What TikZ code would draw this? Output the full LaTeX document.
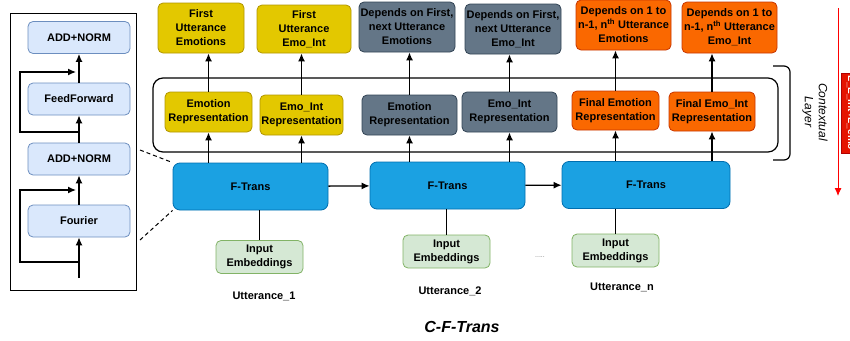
\documentclass[tikz,border=0pt]{standalone}
\usepackage{fontspec}
\setmainfont{Liberation Sans}
\usepackage{xcolor}
\usetikzlibrary{arrows.meta, positioning}

\definecolor{subfill}{HTML}{DAE8FC}
\definecolor{subline}{HTML}{6C8EBF}
\definecolor{yelfill}{HTML}{E3C800}
\definecolor{yelline}{HTML}{B09500}
\definecolor{grayfill}{HTML}{647687}
\definecolor{grayline}{HTML}{314354}
\definecolor{orgfill}{HTML}{FA6800}
\definecolor{orgline}{HTML}{C73500}
\definecolor{ftfill}{HTML}{1BA1E2}
\definecolor{ftline}{HTML}{006EAF}
\definecolor{embfill}{HTML}{D5E8D4}
\definecolor{embline}{HTML}{82B366}
\definecolor{lossfill}{HTML}{E51400}
\definecolor{lossline}{HTML}{B20000}

\begin{document}
\begin{tikzpicture}[x=1pt, y=-1pt,
  font=\fontsize{11}{14}\selectfont\bfseries,
  blk/.style={rounded corners=5pt, align=center, inner sep=0pt, line width=0.8pt},
  sub/.style={blk, fill=subfill, draw=subline, minimum width=102pt, minimum height=32pt},
  yel/.style={blk, fill=yelfill, draw=yelline},
  gry/.style={blk, fill=grayfill, draw=grayline},
  org/.style={blk, fill=orgfill, draw=orgline},
  ftrans/.style={blk, rounded corners=7pt, fill=ftfill, draw=ftline, minimum height=47pt},
  emb/.style={blk, fill=embfill, draw=embline, minimum width=87pt, minimum height=33pt},
  arr/.style={-{Latex[length=8pt,width=7pt]}, line width=1.3pt},
  plain/.style={line width=1.3pt},
]
\useasboundingbox (0,0) rectangle (850,340);

% left panel : one F-Trans block
\draw[line width=0.8pt] (10,13) rectangle (136,290);
\node[sub] (an2) at (79,37.5) {ADD+NORM};
\node[sub] (ff) at (79,99) {FeedForward};
\node[sub] (an1) at (79,159) {ADD+NORM};
\node[sub] (four) at (79,221) {Fourier};
\coordinate (in0) at (79,278);
\coordinate (res1) at (79,262);
\coordinate (res1e) at (76,190);
\coordinate (res2) at (79,132);
\coordinate (res2e) at (76,72);
\draw[arr] (in0) -- (four);
\draw[arr] (four) -- (an1);
\draw[arr] (an1) -- (ff);
\draw[arr] (ff) -- (an2);
\draw[arr] (res1) -- (20,262) -- (20,190) -- (res1e);
\draw[arr] (res2) -- (20,132) -- (20,72) -- (res2e);

% F-Trans chain
\node[ftrans, minimum width=155pt] (ft1) at (250.5,186.5) {F-Trans};
\node[ftrans, minimum width=155pt] (ft2) at (447.5,185.5) {F-Trans};
\node[ftrans, minimum width=168pt] (ft3) at (646,185) {F-Trans};
\draw[arr] (ft1) -- (ft2);
\draw[arr] (ft2) -- (ft3);

\coordinate (pa) at (140,150);
\coordinate (pb) at (140,240);
\draw[dashed, line width=1pt, dash pattern=on 4pt off 3pt] (pa) -- (ft1.north west);
\draw[dashed, line width=1pt, dash pattern=on 4pt off 3pt] (pb) -- (ft1.south west);

% inputs
\node[emb] (emb1) at (259.5,257) {Input\\Embeddings};
\node[emb] (emb2) at (446.5,251.5) {Input\\Embeddings};
\node[emb] (emb3) at (615.5,250.5) {Input\\Embeddings};
\draw[plain] (emb1.north) -- (emb1.north |- ft1.south);
\draw[plain] (emb2.north) -- (emb2.north |- ft2.south);
\draw[plain] (emb3.north) -- (emb3.north |- ft3.south);
\node (utt1) at (264,296) {Utterance\_1};
\node (utt2) at (450,291) {Utterance\_2};
\node (uttn) at (622,287) {Utterance\_n};
\node[font=\fontsize{7}{8}\selectfont, text=gray] (dots) at (540,257) {.....};
\node[font=\fontsize{16}{18}\selectfont\bfseries\itshape] (title) at (462,327) {C-F-Trans};

% contextual layer
\draw[line width=1.2pt, rounded corners=10pt] (153,78) rectangle (778,152);
\draw[line width=1.2pt, rounded corners=6pt] (773,66) -- (790,66) -- (790,160) -- (773,160);
\node[rotate=-90, align=center, font=\fontsize{12}{14}\selectfont\itshape] (ctx) at (815,112) {Contextual\\Layer};

\node[yel, minimum width=87pt, minimum height=40pt] (r1) at (208.5,112) {Emotion\\Representation};
\node[yel, minimum width=83pt, minimum height=40pt] (r2) at (301.5,115) {Emo\_Int\\Representation};
\node[gry, minimum width=95pt, minimum height=40pt] (r3) at (409.5,115) {Emotion\\Representation};
\node[gry, minimum width=95pt, minimum height=40pt] (r4) at (509.5,112) {Emo\_Int\\Representation};
\node[org, minimum width=87pt, minimum height=39pt] (r5) at (615.5,110.5) {Final Emotion\\Representation};
\node[org, minimum width=86pt, minimum height=39pt] (r6) at (712,111.5) {Final Emo\_Int\\Representation};

% outputs
\node[yel, minimum width=86pt, minimum height=50pt] (o1) at (201,28) {First\\Utterance\\Emotions};
\node[yel, minimum width=94pt, minimum height=48pt] (o2) at (304,29) {First\\Utterance\\Emo\_Int};
\node[gry, minimum width=96pt, minimum height=50pt] (o3) at (407,27) {Depends on First,\\next Utterance\\Emotions};
\node[gry, minimum width=96pt, minimum height=50pt] (o4) at (513,29) {Depends on First,\\next Utterance\\Emo\_Int};
\node[org, minimum width=95pt, minimum height=50pt] (o5) at (623.5,25) {Depends on 1 to\\n-1, n\textsuperscript{th} Utterance\\Emotions};
\node[org, minimum width=95pt, minimum height=51pt] (o6) at (729.5,27.5) {Depends on 1 to\\n-1, n\textsuperscript{th} Utterance\\Emo\_Int};

\draw[arr] (r1.south |- ft1.north) -- (r1.south);
\draw[arr] (r2.south |- ft1.north) -- (r2.south);
\draw[arr] (r3.south |- ft2.north) -- (r3.south);
\draw[arr] (r4.south |- ft2.north) -- (r4.south);
\draw[arr] (r5.south |- ft3.north) -- (r5.south);
\draw[arr] (r6.south |- ft3.north) -- (r6.south);
\draw[arr] (r1.north) -- (r1.north |- o1.south);
\draw[arr] (r2.north) -- (r2.north |- o2.south);
\draw[arr] (r3.north) -- (r3.north |- o3.south);
\draw[arr] (r4.north) -- (r4.north |- o4.south);
\draw[arr] (r5.north) -- (r5.north |- o5.south);
\draw[arr] (r6.north) -- (r6.north |- o6.south);

% loss bar at the right edge
\coordinate (ls) at (838,8);
\coordinate (le) at (838,196);
\draw[-{Latex[length=8pt,width=7pt]}, red, line width=0.9pt] (ls) -- (le);
\begin{scope}
\clip (0,0) rectangle (850,340);
\node[rotate=-90, fill=lossfill, draw=lossline, text=white, minimum width=80pt, minimum height=20pt, inner sep=0pt, font=\fontsize{10}{12}\selectfont\bfseries] (loss) at (851,113) {L\_E\_Int+L\_emo};
\end{scope}
\end{tikzpicture}
\end{document}
